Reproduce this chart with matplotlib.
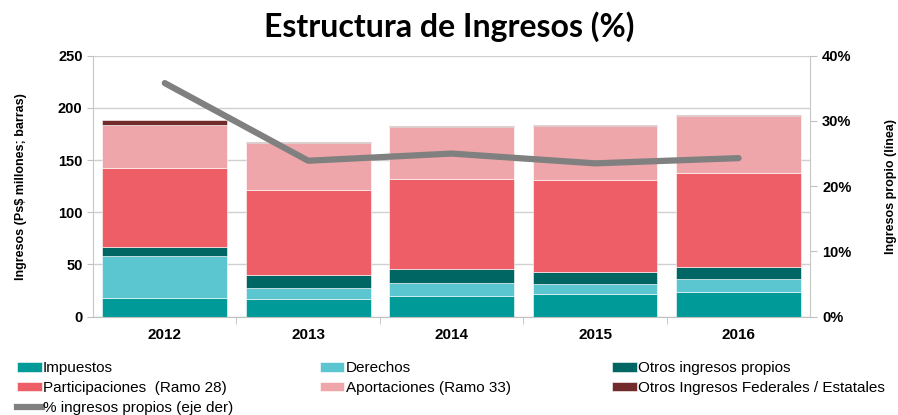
import matplotlib
matplotlib.use('Agg')
import matplotlib.pyplot as plt
import numpy as np
from matplotlib.ticker import FuncFormatter, FixedLocator
from matplotlib.lines import Line2D

years = ['2012', '2013', '2014', '2015', '2016']
impuestos = [18.2, 16.7, 20.1, 21.7, 23.4]
derechos = [40.2, 10.5, 11.9, 9.3, 12.4]
otros_propios = [8.6, 12.7, 14.0, 12.1, 11.5]
participaciones = [75.1, 81.5, 85.6, 87.6, 90.1]
aportaciones = [41.5, 45.3, 49.8, 52.0, 54.8]
otros_federales = [4.8, 0.5, 1.6, 1.2, 0.7]
pct_propios = [35.8, 23.9, 25.0, 23.5, 24.3]

series = [
    ('Impuestos', impuestos, '#009b98'),
    ('Derechos', derechos, '#5bc6cf'),
    ('Otros ingresos propios', otros_propios, '#006664'),
    ('Participaciones  (Ramo 28)', participaciones, '#ed5e66'),
    ('Aportaciones (Ramo 33)', aportaciones, '#eea6aa'),
    ('Otros Ingresos Federales / Estatales', otros_federales, '#722b2b'),
]

fig = plt.figure(figsize=(8.98, 4.15), dpi=100)
ax = fig.add_axes([0.1036, 0.2369, 0.7987, 0.6289])
x = np.arange(len(years))
bottom = np.zeros(len(years))
handles = {}
for name, vals, col in series:
    b = ax.bar(x, vals, 0.87, bottom=bottom, color=col, edgecolor='white',
               linewidth=0.4, zorder=2)
    handles[name] = b
    bottom += np.array(vals)

ax.set_xlim(-0.5, 4.5)
ax.set_ylim(0, 250)
ax.set_yticks(range(0, 251, 50))
ax.set_xticks(x)
ax.set_xticklabels(years, fontsize=11, fontweight='bold', family='Liberation Sans')
ax.xaxis.set_minor_locator(FixedLocator([0.5, 1.5, 2.5, 3.5]))
ax.tick_params(axis='x', which='major', length=0, pad=8)
ax.tick_params(axis='x', which='minor', length=5, color='#c0c0c0')
ax.tick_params(axis='y', length=4, color='#c0c0c0', labelsize=10.5)
for lab in ax.get_yticklabels():
    lab.set_fontweight('bold')
    lab.set_family('Liberation Sans')
ax.grid(axis='y', color='#d0d0d0', linewidth=1, zorder=0)
ax.set_axisbelow(True)
for s in ['top', 'right']:
    ax.spines[s].set_visible(False)
ax.spines['left'].set_color('#c8c8c8')
ax.spines['bottom'].set_color('#c0c0c0')
ax.set_ylabel('Ingresos (Ps$ millones; barras)', fontsize=9, fontweight='bold',
              family='Liberation Sans', labelpad=22)

ax2 = ax.twinx()
line, = ax2.plot(x[:len(pct_propios)], pct_propios, color='#808080', linewidth=4.5,
                 solid_capstyle='round', zorder=3)
ax2.set_ylim(0, 40)
ax2.set_yticks(range(0, 41, 10))
ax2.yaxis.set_major_formatter(FuncFormatter(lambda v, p: '%d%%' % v))
ax2.tick_params(axis='y', length=5, color='#c0c0c0', labelsize=10.5)
for lab in ax2.get_yticklabels():
    lab.set_fontweight('bold')
    lab.set_family('Liberation Sans')
for s in ['top', 'left', 'bottom']:
    ax2.spines[s].set_visible(False)
ax2.spines['right'].set_color('#c8c8c8')
ax2.set_ylabel('Ingresos propio (línea)', fontsize=9, fontweight='bold',
               family='Liberation Sans', labelpad=24)

fig.text(0.5, 0.937, 'Estructura de Ingresos (%)', ha='center', va='center',
         fontsize=23, fontweight='bold', family='Lato')

columns = [
    (0.019, ['Impuestos', 'Participaciones  (Ramo 28)', None]),
    (0.356, ['Derechos', 'Aportaciones (Ramo 33)']),
    (0.682, ['Otros ingresos propios', 'Otros Ingresos Federales / Estatales']),
]
for xpos, names in columns:
    hl, ll = [], []
    for n in names:
        if n is None:
            hl.append(Line2D([], [], color='#808080', linewidth=4.5))
            ll.append('% ingresos propios (eje der)')
        else:
            hl.append(handles[n])
            ll.append(n)
    fig.legend(hl, ll, loc='upper left', bbox_to_anchor=(xpos, 0.13),
               frameon=False, handlelength=1.6, handleheight=0.6,
               handletextpad=0.1, labelspacing=0.38, borderaxespad=0, borderpad=0,
               prop={'family': 'Liberation Sans', 'size': 11})

fig.savefig('out.png', dpi=100)
